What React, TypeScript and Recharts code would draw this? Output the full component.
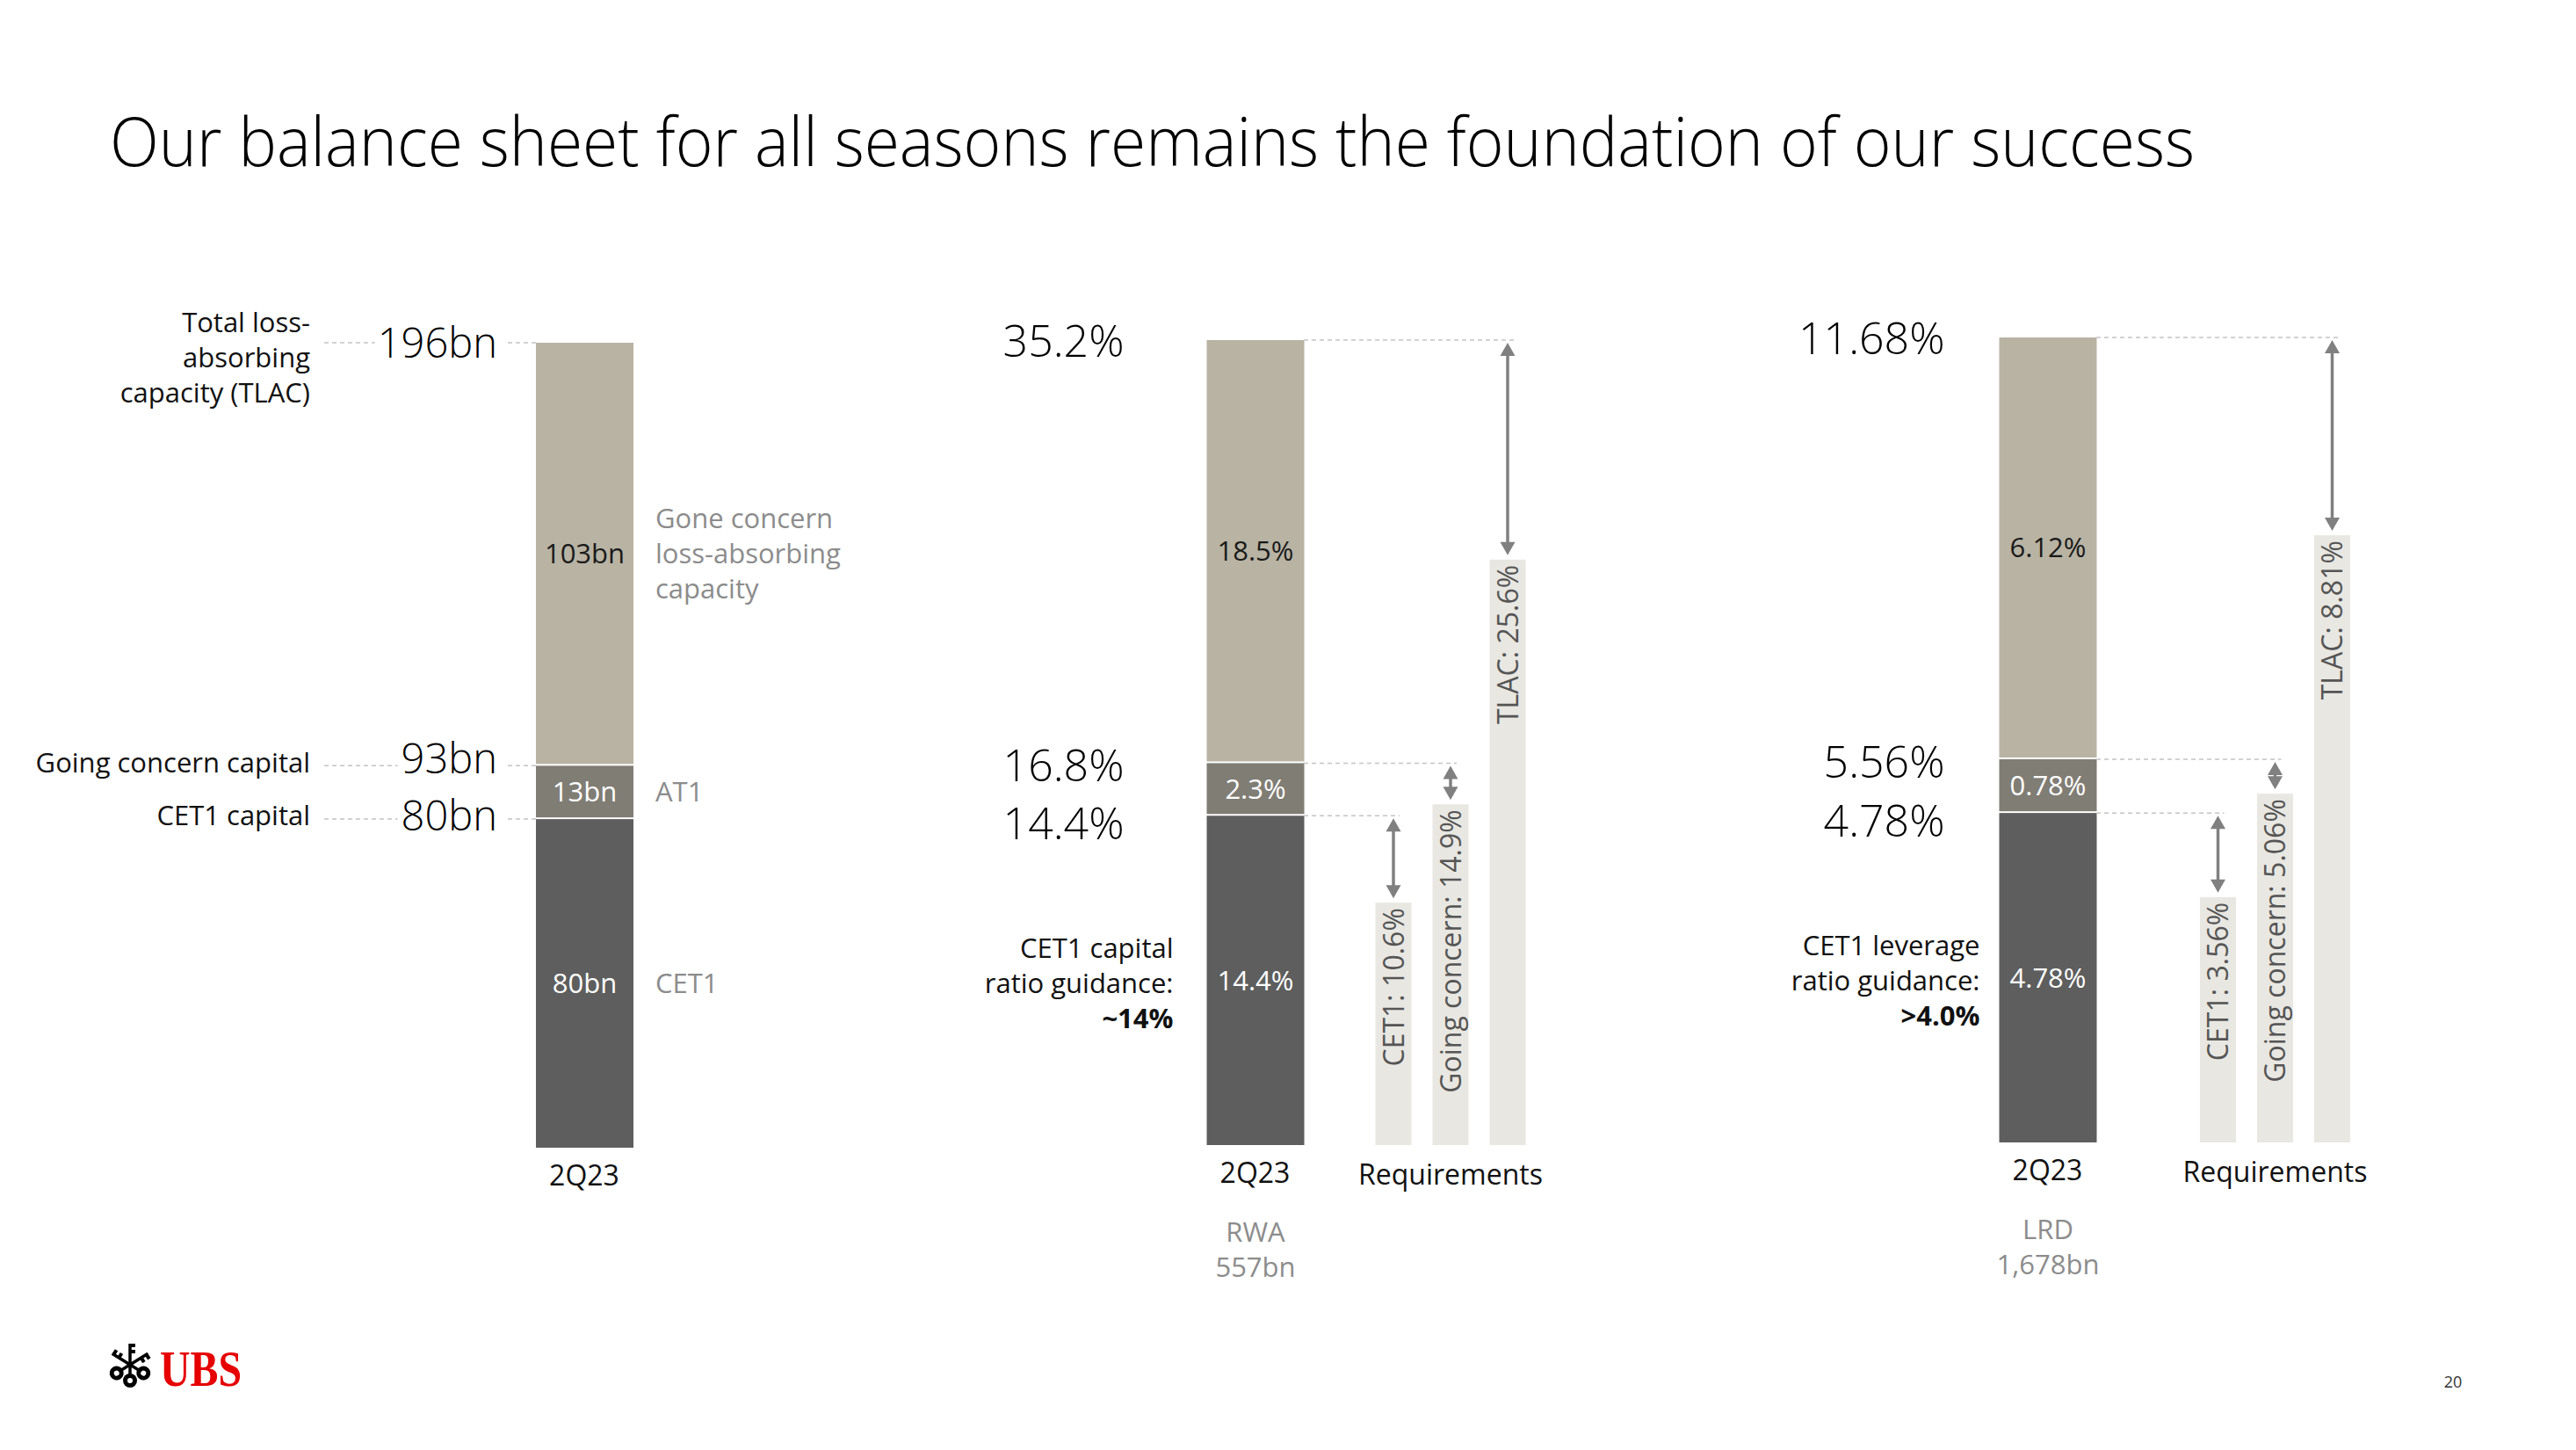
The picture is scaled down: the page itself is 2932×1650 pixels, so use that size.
import React from 'react';
import { BarChart, Bar, XAxis, YAxis } from 'recharts';

const PAGE_W = 2932;
const PAGE_H = 1650;
const FONT = '"Open Sans", "Noto Sans", sans-serif';

const TITLE = 'Our balance sheet for all seasons remains the foundation of our success';
const PERIOD = '2Q23';
const PAGE_NO = '20';

// stack layers, bottom to top: CET1, AT1, gone concern
const LAYER_KEYS = ['cet1', 'at1', 'gone'];
const LAYER_COLORS = ['#5d5e5d', '#807d75', '#b8b3a3'];
const LAYER_TEXT = ['#ffffff', '#ffffff', '#1a1a1a'];
const REQ_COLOR = '#e8e7e2';
const ARROW_COLOR = '#808080';
const DASH_COLOR = '#c4c4c4';
const GREY_TEXT = '#8c8c8c';

const capitalBn = [80, 13, 103];
const capitalLevels = ['80bn', '93bn', '196bn'];
const capitalLayerNames = [['CET1'], ['AT1'], ['Gone concern', 'loss-absorbing', 'capacity']];
const capitalLevelNames = [['CET1 capital'], ['Going concern capital'], ['Total loss-', 'absorbing', 'capacity (TLAC)']];

const rwaRatios = [14.4, 2.3, 18.5];
const rwaLevels = ['14.4%', '16.8%', '35.2%'];
const rwaGuidance = ['CET1 capital', 'ratio guidance:', '~14%'];
const rwaBase = ['RWA', '557bn'];
const rwaReq = [10.6, 14.9, 25.6];

const lrdRatios = [4.78, 0.78, 6.12];
const lrdLevels = ['4.78%', '5.56%', '11.68%'];
const lrdGuidance = ['CET1 leverage', 'ratio guidance:', '>4.0%'];
const lrdBase = ['LRD', '1,678bn'];
const lrdReq = [3.56, 5.06, 8.81];

const REQ_NAMES = ['CET1', 'Going concern', 'TLAC'];
const REQ_LABEL = 'Requirements';

// layout
const PLOT_H = 916;
const AXIS_H = 60;
const MAIN_BAND = 130;
const MAIN_BAR = 111;
const REQ_BAND = 65;
const REQ_BAR = 41;

type PanelCfg = {
  id: string;
  left: number;
  width: number;
  top: number;
  mainCenter: number;
  reqStart?: number;
  numberGap: number;
  numberSize: number;
  numberNudge: number[];
  guidanceGap?: number;
  values: number[];
  levels: string[];
  unit: string;
  req?: number[];
  guidance?: string[];
  base?: string[];
  layerNames?: string[][];
  levelNames?: string[][];
};

const PANELS: PanelCfg[] = [
  {
    id: 'capital', left: 0, width: 1000, top: 390, mainCenter: 665,
    numberGap: 44, numberSize: 47, numberNudge: [-4, -8, 0],
    values: capitalBn, levels: capitalLevels, unit: 'bn',
    layerNames: capitalLayerNames, levelNames: capitalLevelNames,
  },
  {
    id: 'rwa', left: 1000, width: 950, top: 387, mainCenter: 1428.5, reqStart: 1586,
    numberGap: 94, numberSize: 50, numberNudge: [9, 3, 1], guidanceGap: 38,
    values: rwaRatios, levels: rwaLevels, unit: '%', req: rwaReq,
    guidance: rwaGuidance, base: rwaBase,
  },
  {
    id: 'lrd', left: 1950, width: 900, top: 384, mainCenter: 2330.5, reqStart: 2524.5,
    numberGap: 62, numberSize: 50, numberNudge: [9, 3, 1], guidanceGap: 22,
    values: lrdRatios, levels: lrdLevels, unit: '%', req: lrdReq,
    guidance: lrdGuidance, base: lrdBase,
  },
];

function TextLines(props: {
  x: number; cy: number; lines: string[]; anchor: 'start' | 'middle' | 'end';
  size: number; fill: string; lh: number; boldLast?: boolean;
}) {
  const { x, cy, lines, anchor, size, fill, lh, boldLast } = props;
  const first = cy - ((lines.length - 1) * lh) / 2;
  return (
    <text textAnchor={anchor} fontSize={size} fill={fill}>
      {lines.map((s, i) => (
        <tspan key={i} x={x} y={first + i * lh + size * 0.36}
          fontWeight={boldLast && i === lines.length - 1 ? 700 : 400}>{s}</tspan>
      ))}
    </text>
  );
}

function Arrow({ x, y1, y2 }: { x: number; y1: number; y2: number }) {
  const hw = 8.5;
  const hl = 15;
  return (
    <g>
      <line x1={x} x2={x} y1={y1 + hl - 1} y2={y2 - hl + 1} stroke={ARROW_COLOR} strokeWidth={3.5} />
      <polygon points={`${x},${y1} ${x - hw},${y1 + hl} ${x + hw},${y1 + hl}`} fill={ARROW_COLOR} />
      <polygon points={`${x},${y2} ${x - hw},${y2 - hl} ${x + hw},${y2 - hl}`} fill={ARROW_COLOR} />
    </g>
  );
}

function Dash({ x1, x2, y }: { x1: number; x2: number; y: number }) {
  return <line x1={x1} x2={x2} y1={y} y2={y} stroke={DASH_COLOR} strokeWidth={1.5} strokeDasharray="5 4" />;
}

function Panel({ cfg }: { cfg: PanelCfg }) {
  const total = cfg.values.reduce((a, b) => a + b, 0);
  const cum = cfg.values.map((_, i) => cfg.values.slice(0, i + 1).reduce((a, b) => a + b, 0));
  const req = cfg.req || [];
  const mainRow: any = { period: PERIOD, reqName: '' };
  LAYER_KEYS.forEach((k, i) => { mainRow[k] = cfg.values[i]; });
  const rows = [mainRow, ...req.map((v, i) => ({ period: '', reqName: REQ_NAMES[i], req: v, target: cum[i] }))];

  // page coordinates
  const plotLeft = cfg.mainCenter - MAIN_BAND / 2;
  const plotRight = plotLeft + rows.length * MAIN_BAND;
  const reqLeft = cfg.reqStart !== undefined ? cfg.reqStart - 1.5 * REQ_BAND : plotLeft;
  const reqRight = reqLeft + rows.length * REQ_BAND;
  // chart coordinates
  const mainRight = cfg.mainCenter - cfg.left + MAIN_BAR / 2;
  const isBn = cfg.unit === 'bn';
  const ns = cfg.numberSize;

  const segShape = (layer: number) => (p: any) => {
    const { x, y, width, height } = p;
    if (!(height > 0)) return <g />;
    const cx = x + width / 2;
    const gap = layer > 0 ? 2 : 0;
    const cy = y + (height - gap) / 2;
    const inner = `${cfg.values[layer]}${cfg.unit}`;
    const numY = y + ns * 0.36 + cfg.numberNudge[layer];
    return (
      <g>
        <rect x={x} y={y} width={width} height={height - gap} fill={LAYER_COLORS[layer]} />
        <text x={cx} y={cy + 31 * 0.36} textAnchor="middle" fontSize={31} fill={LAYER_TEXT[layer]}>{inner}</text>
        <text x={x - cfg.numberGap} y={numY} textAnchor="end" fontSize={ns} fontWeight={300} fill="#000">
          {cfg.levels[layer]}
        </text>
        {isBn ? (
          <g>
            <Dash x1={x - 32} x2={x} y={y} />
            <Dash x1={x - 241} x2={x - 54 - cfg.levels[layer].length * 0.55 * ns} y={y} />
            <TextLines x={x - 257} cy={cfg.levelNames![layer].length > 1 ? y + 17 : y - 4}
              lines={cfg.levelNames![layer]} anchor="end" size={31} fill="#111" lh={40} />
            <TextLines x={x + width + 25} cy={cy} lines={cfg.layerNames![layer]}
              anchor="start" size={31} fill={GREY_TEXT} lh={40} />
          </g>
        ) : (
          layer === 0 && (
            <g>
              <TextLines x={x - cfg.guidanceGap!} cy={cy + 3} lines={cfg.guidance!} anchor="end" size={31} fill="#111" lh={40} boldLast />
              <TextLines x={cx} cy={y + height + 119} lines={cfg.base!} anchor="middle" size={31} fill={GREY_TEXT} lh={40} />
            </g>
          )
        )}
      </g>
    );
  };

  const reqShape = (p: any) => {
    const { x, y, width, height, payload } = p;
    if (!(height > 0) || !payload || payload.req == null) return <g />;
    const cx = x + width / 2;
    const bottom = y + height;
    const ppu = height / payload.req;
    const levelY = bottom - payload.target * ppu;
    const label = `${payload.reqName}: ${payload.req}%`;
    return (
      <g>
        <rect x={x} y={y} width={width} height={height} fill={REQ_COLOR} />
        <text x={cx} y={y + 6} dy="0.36em" transform={`rotate(-90, ${cx}, ${y + 6})`}
          textAnchor="end" fontSize={32} fill="#555">{label}</text>
        <Dash x1={mainRight} x2={cx + 7} y={levelY} />
        <Arrow x={cx} y1={levelY + 3} y2={y - 5} />
        {payload.reqName === REQ_NAMES[1] && (
          <text x={cx} y={bottom + 45} textAnchor="middle" fontSize={32} fill="#111">{REQ_LABEL}</text>
        )}
      </g>
    );
  };

  return (
    <div style={{ position: 'absolute', left: cfg.left, top: 0 }}>
      <BarChart
        width={cfg.width}
        height={PAGE_H}
        data={rows}
        margin={{
          top: cfg.top,
          bottom: PAGE_H - cfg.top - PLOT_H - AXIS_H,
          left: plotLeft - cfg.left,
          right: cfg.left + cfg.width - plotRight,
        }}
      >
        <XAxis xAxisId="main" dataKey="period" axisLine={false} tickLine={false} interval={0}
          height={AXIS_H} tickMargin={14} tick={{ fontSize: 32, fill: '#111' }} />
        <XAxis xAxisId="req" dataKey="reqName" hide
          padding={{ left: reqLeft - plotLeft, right: plotRight - reqRight }} />
        <YAxis hide domain={[0, total]} />
        {LAYER_KEYS.map((k, i) => (
          <Bar key={k} dataKey={k} xAxisId="main" stackId="stack" barSize={MAIN_BAR}
            fill={LAYER_COLORS[i]} shape={segShape(i)} isAnimationActive={false} />
        ))}
        {req.length > 0 && (
          <Bar dataKey="req" xAxisId="req" barSize={REQ_BAR} fill={REQ_COLOR}
            shape={reqShape} isAnimationActive={false} />
        )}
      </BarChart>
    </div>
  );
}

function Key({ angle }: { angle: number }) {
  return (
    <g transform={`rotate(${angle})`}>
      <line x1={0} y1={12} x2={0} y2={-24} stroke="#000" strokeWidth={3.5} />
      <rect x={0} y={-24} width={6} height={4} fill="#000" />
      <rect x={0} y={-17} width={6} height={4} fill="#000" />
      <circle cx={0} cy={18} r={8} fill="#000" />
      <circle cx={0} cy={18} r={3} fill="#fff" />
    </g>
  );
}

export default function App() {
  return (
    <div style={{ position: 'absolute', left: 0, top: 0, width: PAGE_W, height: PAGE_H, background: '#fff', fontFamily: FONT, overflow: 'hidden' }}>
      <svg width={PAGE_W} height={PAGE_H} style={{ position: 'absolute', left: 0, top: 0 }}>
        <text x={125} y={189} fontSize={78} fontWeight={300} fill="#000"
          textLength={2373} lengthAdjust="spacingAndGlyphs">{TITLE}</text>
        <g transform="translate(148,1553)">
          <Key angle={0} />
          <Key angle={-58} />
          <Key angle={58} />
        </g>
        <text x={182} y={1577} fontSize={57} fontWeight={700} fill="#e60000"
          fontFamily='"Liberation Serif", "DejaVu Serif", serif' textLength={93} lengthAdjust="spacingAndGlyphs">UBS</text>
        <text x={2792} y={1579} fontSize={18} textAnchor="middle" fill="#333">{PAGE_NO}</text>
      </svg>
      {PANELS.map((cfg) => <Panel key={cfg.id} cfg={cfg} />)}
    </div>
  );
}
